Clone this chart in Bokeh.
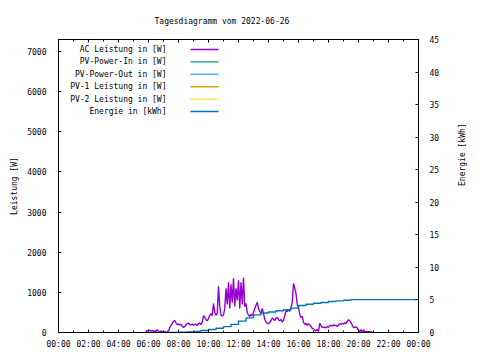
from bokeh.plotting import figure
from bokeh.models import (Range1d, LinearAxis, FixedTicker, Label, BoxAnnotation)
from bokeh.embed import file_html
from bokeh.resources import INLINE

# ---------------- data ----------------
TITLE = "Tagesdiagramm vom 2022-06-26"
X_TICKS = [0, 2, 4, 6, 8, 10, 12, 14, 16, 18, 20, 22, 24]
X_TICK_LABELS = ["00:00", "02:00", "04:00", "06:00", "08:00", "10:00", "12:00",
                 "14:00", "16:00", "18:00", "20:00", "22:00", "00:00"]
Y_TICKS = [0, 1000, 2000, 3000, 4000, 5000, 6000, 7000]
Y2_TICKS = [0, 5, 10, 15, 20, 25, 30, 35, 40, 45]

ac_time = ["05:48", "05:55", "06:00", "06:05", "06:10", "06:15", "06:20", "06:25", "06:30", "06:35",
           "06:40", "06:45", "06:50", "06:55", "07:00", "07:05", "07:10", "07:15", "07:20", "07:25",
           "07:30", "07:35", "07:40", "07:45", "07:50", "07:55", "08:00", "08:05", "08:10", "08:15",
           "08:20", "08:25", "08:30", "08:35", "08:40", "08:45", "08:50", "08:55", "09:00", "09:05",
           "09:10", "09:15", "09:20", "09:25", "09:30", "09:35", "09:40", "09:45", "09:50", "09:55",
           "10:00", "10:05", "10:10", "10:15", "10:20", "10:25", "10:30", "10:35", "10:40", "10:45",
           "10:50", "10:55", "11:00", "11:05", "11:10", "11:15", "11:20", "11:25", "11:30", "11:35",
           "11:40", "11:45", "11:50", "11:55", "12:00", "12:05", "12:10", "12:15", "12:20", "12:25",
           "12:30", "12:35", "12:40", "12:45", "12:50", "12:55", "13:00", "13:05", "13:10", "13:15",
           "13:20", "13:25", "13:30", "13:35", "13:40", "13:45", "13:50", "13:55", "14:00", "14:05",
           "14:10", "14:15", "14:20", "14:25", "14:30", "14:35", "14:40", "14:45", "14:50", "14:55",
           "15:00", "15:05", "15:10", "15:15", "15:20", "15:25", "15:30", "15:35", "15:40", "15:45",
           "15:50", "15:55", "16:00", "16:05", "16:10", "16:15", "16:20", "16:25", "16:30", "16:35",
           "16:40", "16:45", "16:50", "16:55", "17:00", "17:05", "17:10", "17:15", "17:20", "17:25",
           "17:30", "17:35", "17:40", "17:45", "17:50", "17:55", "18:00", "18:05", "18:10", "18:15",
           "18:20", "18:25", "18:30", "18:35", "18:40", "18:45", "18:50", "18:55", "19:00", "19:05",
           "19:10", "19:15", "19:20", "19:25", "19:30", "19:35", "19:40", "19:45", "19:50", "19:55",
           "20:00", "20:05", "20:10", "20:15", "20:20", "20:25", "20:30", "20:35", "20:40", "20:45",
           "20:50", "20:55"]
ac_power = [0, 50, 40, 60, 30, 55, 20, 45, 25, 70,
            30, 10, 40, 20, 5, 25, 0, 20, 40, 120,
            180, 230, 280, 300, 240, 200, 210, 190, 200, 160,
            125, 150, 190, 220, 230, 200, 190, 210, 180, 200,
            210, 170, 220, 240, 200, 260, 420, 380, 320, 290,
            350, 430, 470, 420, 720, 500, 430, 470, 1150, 650,
            430, 410, 440, 600, 1100, 700, 1250, 600, 1200, 750,
            1350, 650, 1100, 800, 1300, 600, 1250, 700, 1370, 650,
            720, 500, 430, 400, 450, 420, 500, 600, 680, 750,
            600, 520, 480, 600, 470, 330, 260, 230, 220, 250,
            300, 360, 330, 300, 350, 380, 320, 290, 330, 260,
            300, 420, 540, 520, 570, 530, 620, 750, 1220, 1100,
            970, 700, 620, 450, 375, 400, 250, 200, 230, 180,
            220, 190, 150, 100, 90, 60, 40, 80, 30, 225,
            180, 130, 120, 140, 110, 150, 130, 170, 180, 160,
            190, 170, 180, 150, 190, 220, 200, 230, 210, 240,
            220, 280, 320, 290, 250, 180, 130, 120, 140, 110,
            60, 10, 75, 0, 70, 10, 30, 15, 25, 10,
            20, 0]

energy_time = ["07:00", "07:30", "08:00", "08:30", "09:00", "09:30", "10:00", "10:30", "11:00",
               "11:30", "12:00", "12:30", "13:00", "13:30", "14:00", "14:30", "15:00", "15:30",
               "16:00", "16:30", "17:00", "17:30", "18:00", "18:30", "19:00", "19:30", "20:00",
               "21:00", "22:00", "23:00", "24:00"]
energy_kwh = [0.0, 0.0, 0.05, 0.1, 0.15, 0.3, 0.45, 0.65, 0.9,
              1.25, 1.75, 2.25, 2.7, 3.0, 3.15, 3.35, 3.5, 3.75,
              4.15, 4.35, 4.5, 4.6, 4.75, 4.85, 4.95, 5.05, 5.05,
              5.05, 5.05, 5.05, 5.05]

# series without visible data in the picture
pv_in_time, pv_in_power = [], []
pv_out_time, pv_out_power = [], []
pv1_time, pv1_power = [], []
pv2_time, pv2_power = [], []

SERIES_NAMES = ["AC Leistung in [W]", "PV-Power-In in [W]", "PV-Power-Out in [W]",
                "PV-1 Leistung in [W]", "PV-2 Leistung in [W]", "Energie in [kWh]"]
SERIES_COLORS = ["#9400d3", "#009e73", "#56b4e9", "#e69f00", "#f0e442", "#0072b2"]


def hours(ts):
    out = []
    for t in ts:
        h, m = t.split(":")
        out.append(int(h) + int(m) / 60.0)
    return out


FONT = "DejaVu Sans Mono"
FS = "8px"
FRAME_H = 293

p = figure(width=480, height=360, output_backend="svg", toolbar_location=None,
           x_range=Range1d(0, 24), y_range=Range1d(0, 7300),
           min_border_left=58, min_border_right=62, min_border_top=39, min_border_bottom=28,
           x_axis_type=None, y_axis_type=None)
p.extra_y_ranges = {"energy": Range1d(0, 45)}
p.xgrid.visible = False
p.ygrid.visible = False
p.outline_line_color = "black"
p.outline_line_width = 1
p.background_fill_color = "white"
p.border_fill_color = "white"

p.title.text = TITLE
p.title.text_font = FONT
p.title.text_font_size = FS
p.title.text_font_style = "normal"
p.title.text_color = "black"
p.title.align = "left"
p.title.offset = 96
p.title.standoff = 27


def style_axis(ax):
    ax.axis_line_color = "black"
    ax.major_tick_line_color = "black"
    ax.minor_tick_line_color = "black"
    ax.major_tick_out = 0
    ax.minor_tick_out = 0
    ax.major_label_text_font = FONT
    ax.major_label_text_font_size = FS
    ax.major_label_text_color = "black"
    ax.axis_label_text_font = FONT
    ax.axis_label_text_font_size = FS
    ax.axis_label_text_font_style = "normal"
    ax.axis_label_text_color = "black"


xb = LinearAxis(ticker=FixedTicker(ticks=X_TICKS, minor_ticks=list(range(0, 25))))
xb.major_label_overrides = {t: lab for t, lab in zip(X_TICKS, X_TICK_LABELS)}
style_axis(xb)
xb.major_tick_in = 3
xb.minor_tick_in = 2
xb.major_label_standoff = 7
p.add_layout(xb, "below")

xt = LinearAxis(ticker=FixedTicker(ticks=X_TICKS, minor_ticks=list(range(0, 25))))
style_axis(xt)
xt.major_tick_in = 3
xt.minor_tick_in = 2
xt.major_label_text_color = None
xt.major_label_standoff = 0
p.add_layout(xt, "above")

yl = LinearAxis(ticker=FixedTicker(ticks=Y_TICKS, minor_ticks=[]), axis_label="Leistung [W]")
style_axis(yl)
yl.major_tick_in = 3
yl.major_label_standoff = 12
yl.axis_label_standoff = 5
p.add_layout(yl, "left")

yr = LinearAxis(y_range_name="energy", ticker=FixedTicker(ticks=Y2_TICKS, minor_ticks=[]),
                axis_label="Energie [kWh]")
style_axis(yr)
yr.major_tick_in = 3
yr.major_label_standoff = 11
yr.axis_label_standoff = 20
yr.axis_label_orientation = 1.5708
p.add_layout(yr, "right")

p.line(hours(ac_time), ac_power, line_color=SERIES_COLORS[0], line_width=1.4)
p.line(hours(pv_in_time), pv_in_power, line_color=SERIES_COLORS[1], line_width=1.4)
p.line(hours(pv_out_time), pv_out_power, line_color=SERIES_COLORS[2], line_width=1.4)
p.line(hours(pv1_time), pv1_power, line_color=SERIES_COLORS[3], line_width=1.4)
p.line(hours(pv2_time), pv2_power, line_color=SERIES_COLORS[4], line_width=1.4)
p.step(hours(energy_time), energy_kwh, mode="after", y_range_name="energy",
       line_color=SERIES_COLORS[5], line_width=1.4)

# gnuplot-style key: right-aligned text, then a line sample
for i, (name, col) in enumerate(zip(SERIES_NAMES, SERIES_COLORS)):
    ry = FRAME_H - 10 - 12.4 * i
    p.add_layout(Label(x=108, y=ry, x_units="screen", y_units="screen",
                       text=name, text_align="right", text_baseline="middle",
                       text_font=FONT, text_font_size=FS, text_color="black"))
    p.add_layout(BoxAnnotation(left=132, right=160, bottom=ry - 0.7, top=ry + 0.7,
                               left_units="screen", right_units="screen",
                               bottom_units="screen", top_units="screen",
                               fill_color=col, fill_alpha=1.0, line_color=None))

open("out.html", "w").write(file_html(p, INLINE))
